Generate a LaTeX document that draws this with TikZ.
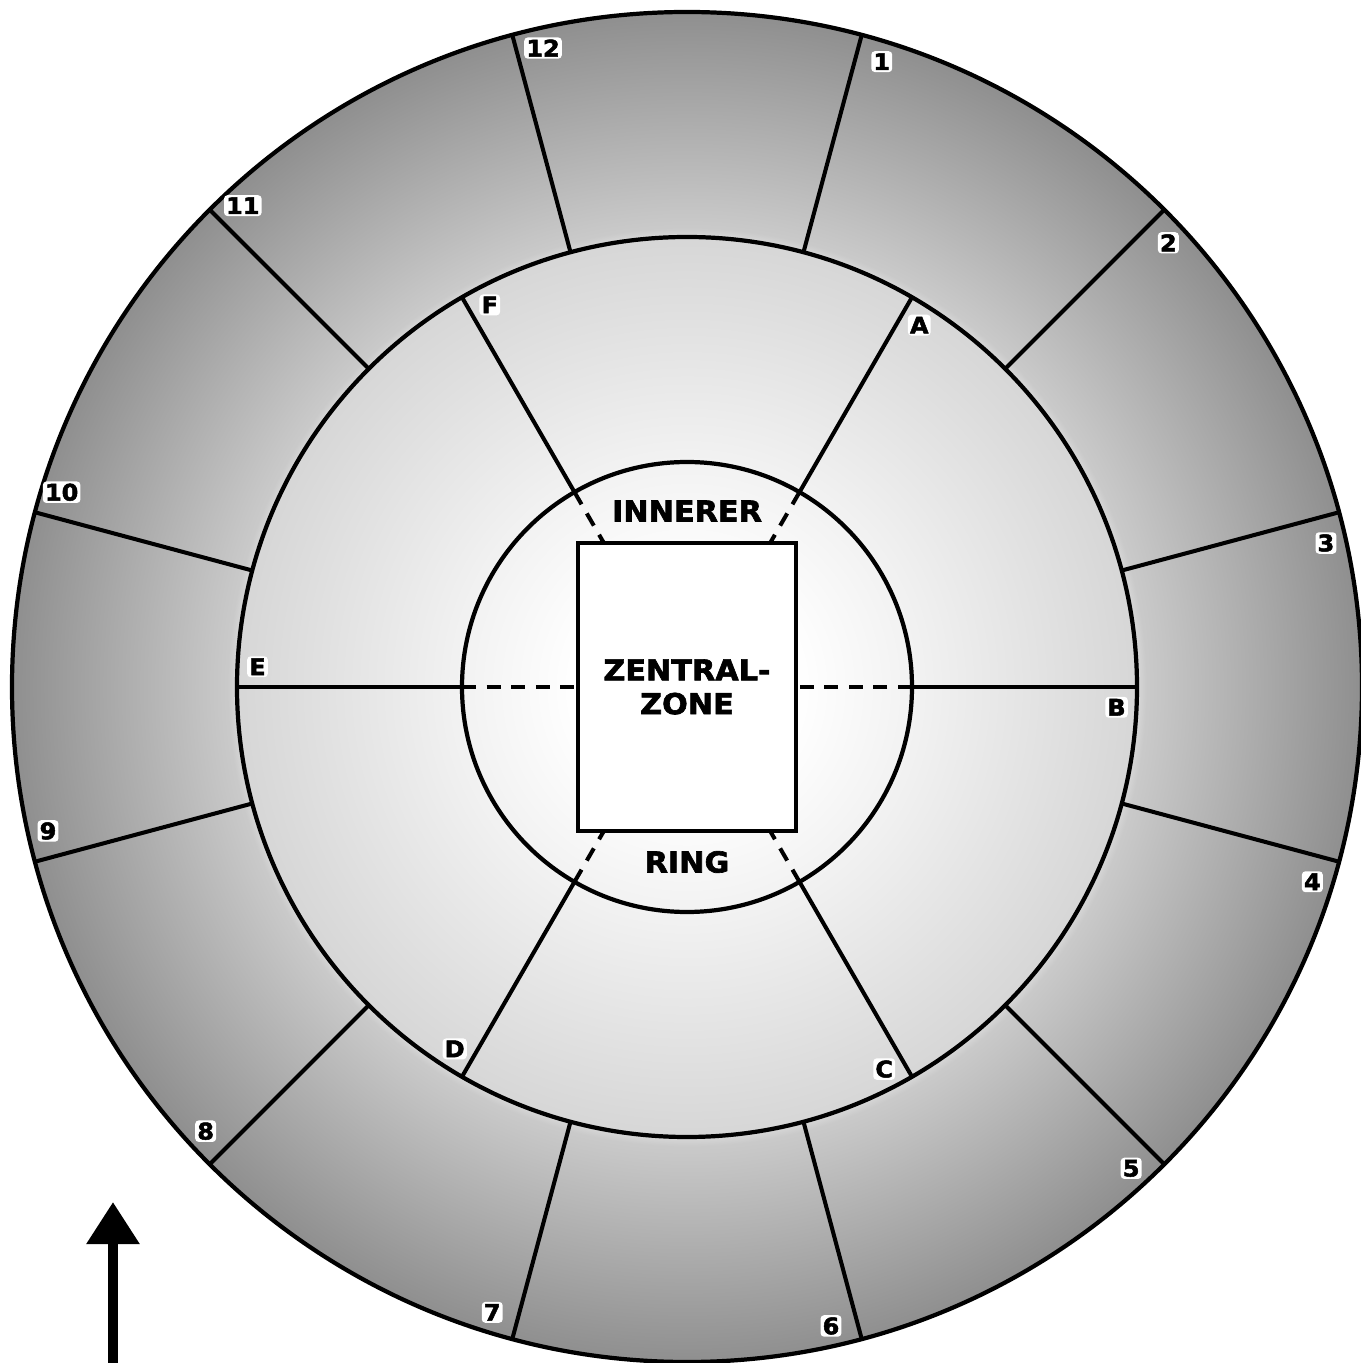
\documentclass[tikz,border=0pt]{standalone}
\usepackage{fontspec}
\setmainfont{DejaVu Sans}
\newfontfamily\zonefont{DejaVu Sans}[FakeStretch=1.05, FakeBold=2.2]
\usetikzlibrary{arrows.meta}
\pgfdeclareradialshading{zonefade}{\pgfpoint{0bp}{0bp}}{color(0bp)=(white); color(4bp)=(white); color(8.3bp)=(black!5); color(16.7bp)=(black!16); color(17bp)=(black!21); color(25bp)=(black!44); color(50bp)=(black!44)}

\begin{document}
\begin{tikzpicture}[
    ring/.style={draw, line width=1.2pt},
    spoke/.style={draw, line width=1.15pt},
    split/.style={draw, line width=1.15pt, dash pattern=on 4pt off 3pt},
    title/.style={font=\zonefont\bfseries\fontsize{8.2}{9.6}\selectfont, align=center},
    num/.style={font=\zonefont\bfseries\fontsize{6.5}{7}\selectfont,
                fill=white, inner sep=0.6pt, rounded corners=1pt},
    zone/.style={rectangle, draw, line width=1.2pt, fill=white,
                 minimum width=2.18cm, minimum height=2.88cm},
    pointer/.style={-{Triangle[length=12pt, width=14.5pt]}, line width=2.8pt}
]
  \useasboundingbox (-6.87,-6.76) rectangle (6.73,6.87);

  % Shaded disc and the three rings
  \shade[shading=zonefade] (0,0) circle (6.75);
  \draw[ring] (0,0) circle (6.75);
  \draw[ring] (0,0) circle (4.5);
  \draw[ring] (0,0) circle (2.25);

  % Outer ring: sectors 1 to 12
  \foreach \k in {1,...,12} {
    \draw[spoke] ({105-30*\k}:4.5) -- ({105-30*\k}:6.75);
    \node[num] (sec\k) at ({102.7-30*\k}:6.55) {\k};
  }

  % Middle ring: sectors A to F, dashed inside the inner ring
  \foreach \c/\r [count=\i] in {A/1.663, B/1.09, C/1.663, D/1.663, E/1.08, F/1.663} {
    \draw[spoke] ({120-60*\i}:2.25) -- ({120-60*\i}:4.5);
    \draw[split] ({120-60*\i}:2.25) -- ({120-60*\i}:\r);
    \node[num] (sec\c) at ({117.3-60*\i}:4.3) {\c};
  }

  % Central zone
  \node[zone, title] (zentral) at (0,0) {ZENTRAL-\\ZONE};
  \node[title] (inner) at (0,1.76) {INNERER};
  \node[title] (ringlabel) at (0,-1.75) {RING};

  % North arrow
  \coordinate (tail) at (-5.74,-6.76);
  \coordinate (tip) at (-5.74,-5.15);
  \draw[pointer] (tail) -- (tip);
\end{tikzpicture}
\end{document}
